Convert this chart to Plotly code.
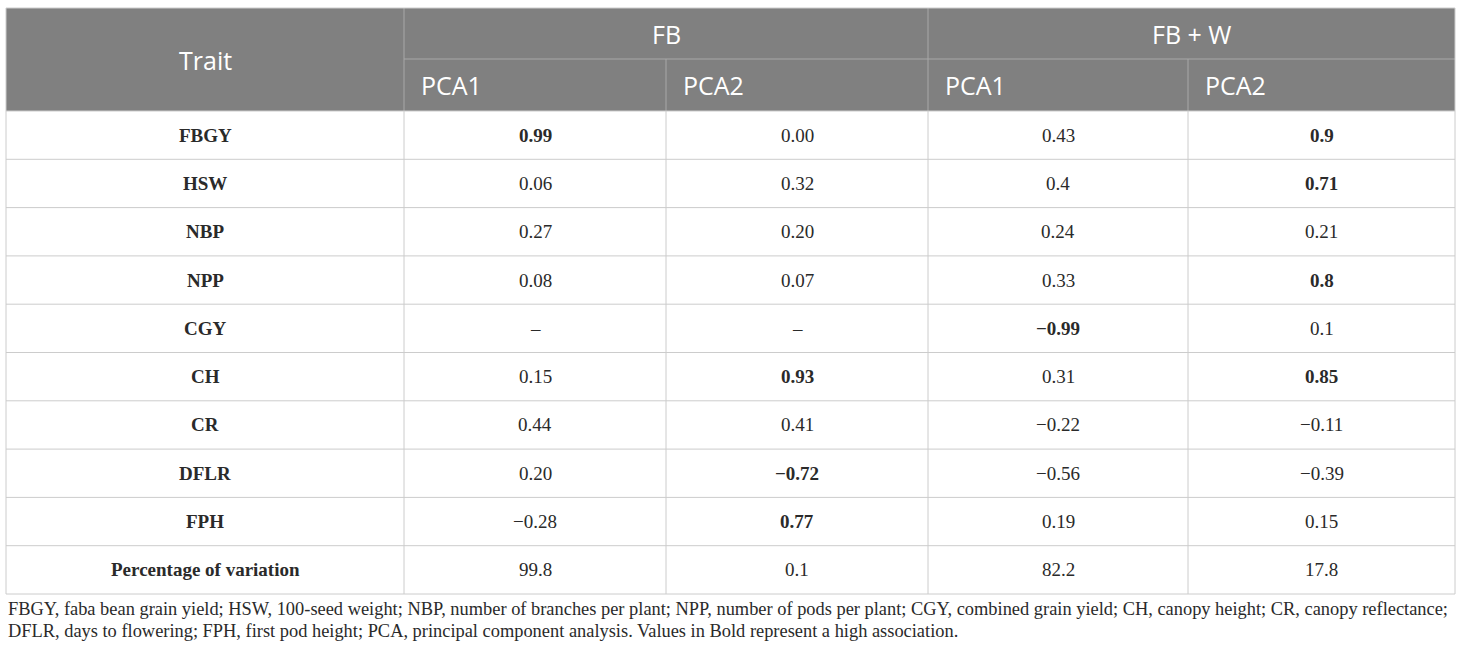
import plotly.graph_objects as go

# table data
traits = ["FBGY", "HSW", "NBP", "NPP", "CGY", "CH", "CR", "DFLR", "FPH", "Percentage of variation"]
fb_pca1 = ["0.99", "0.06", "0.27", "0.08", "–", "0.15", "0.44", "0.20", "−0.28", "99.8"]
fb_pca2 = ["0.00", "0.32", "0.20", "0.07", "–", "0.93", "0.41", "−0.72", "0.77", "0.1"]
fbw_pca1 = ["0.43", "0.4", "0.24", "0.33", "−0.99", "0.31", "−0.22", "−0.56", "0.19", "82.2"]
fbw_pca2 = ["0.9", "0.71", "0.21", "0.8", "0.1", "0.85", "−0.11", "−0.39", "0.15", "17.8"]
groups = ["FB", "FB + W"]
sub_cols = ["PCA1", "PCA2", "PCA1", "PCA2"]
footnote = [
    "FBGY, faba bean grain yield; HSW, 100-seed weight; NBP, number of branches per plant; NPP, number of pods per plant; CGY, combined grain yield; CH, canopy height; CR, canopy reflectance;",
    "DFLR, days to flowering; FPH, first pod height; PCA, principal component analysis. Values in Bold represent a high association.",
]

W, H = 1460, 656
col_edges = [6, 404, 666, 928, 1188, 1455]
top, mid, head_bot = 8, 59, 111
row_h = 48.3
hdr_bg = "#808080"
grid = "#cccccc"
serif = "Liberation Serif"
sans = "Open Sans"


def to_num(s):
    try:
        return float(s.replace("−", "-"))
    except ValueError:
        return None


fig = go.Figure()
shapes = []
ann = []

# header background
shapes.append(dict(type="rect", x0=col_edges[0], x1=col_edges[-1], y0=top, y1=head_bot,
                   fillcolor=hdr_bg, line=dict(width=0), layer="below"))
# header lines
hl = dict(color="#a8a8a8", width=1)
shapes.append(dict(type="line", x0=col_edges[1], x1=col_edges[1], y0=top, y1=head_bot, line=hl))
shapes.append(dict(type="line", x0=col_edges[3], x1=col_edges[3], y0=top, y1=head_bot, line=hl))
shapes.append(dict(type="line", x0=col_edges[2], x1=col_edges[2], y0=mid, y1=head_bot, line=hl))
shapes.append(dict(type="line", x0=col_edges[4], x1=col_edges[4], y0=mid, y1=head_bot, line=hl))
shapes.append(dict(type="line", x0=col_edges[1], x1=col_edges[-1], y0=mid, y1=mid, line=hl))

hfont = dict(family=sans, size=25, color="white")
ann.append(dict(x=(col_edges[0] + col_edges[1]) / 2, y=(top + head_bot) / 2, text="Trait",
                showarrow=False, font=hfont))
for g, name in enumerate(groups):
    ann.append(dict(x=(col_edges[1 + 2 * g] + col_edges[3 + 2 * g]) / 2, y=(top + mid) / 2,
                    text=name, showarrow=False, font=hfont))
for c, name in enumerate(sub_cols):
    ann.append(dict(x=col_edges[1 + c] + 15, y=(mid + head_bot) / 2, text=name, xanchor="left",
                    showarrow=False, font=hfont))

# body
n = len(traits)
bottom = head_bot + n * row_h
gl = dict(color=grid, width=1)
for i in range(n + 1):
    y = head_bot + i * row_h
    shapes.append(dict(type="line", x0=col_edges[0], x1=col_edges[-1], y0=y, y1=y, line=gl))
for x in col_edges:
    shapes.append(dict(type="line", x0=x, x1=x, y0=head_bot, y1=bottom, line=gl))
shapes.append(dict(type="line", x0=col_edges[0], x1=col_edges[-1], y0=top, y1=top, line=gl))
for x in (col_edges[0], col_edges[-1]):
    shapes.append(dict(type="line", x0=x, x1=x, y0=top, y1=head_bot, line=gl))

bfont = dict(family=serif, size=19, color="#2a2a2a")
columns = [fb_pca1, fb_pca2, fbw_pca1, fbw_pca2]
for i, t in enumerate(traits):
    yc = head_bot + (i + 0.5) * row_h
    ann.append(dict(x=(col_edges[0] + col_edges[1]) / 2, y=yc, text="<b>" + t + "</b>",
                    showarrow=False, font=bfont))
    for c, col in enumerate(columns):
        v = col[i]
        num = to_num(v)
        txt = v
        if i < n - 1 and num is not None and abs(num) >= 0.7:
            txt = "<b>" + v + "</b>"
        ann.append(dict(x=(col_edges[c + 1] + col_edges[c + 2]) / 2, y=yc, text=txt,
                        showarrow=False, font=bfont))

ffont = dict(family=serif, size=18.4, color="#2a2a2a")
for k, line in enumerate(footnote):
    ann.append(dict(x=col_edges[0], y=bottom + 15 + k * 21.5, text=line, xanchor="left",
                    showarrow=False, font=ffont))

fig.update_layout(
    width=W, height=H, margin=dict(l=0, r=0, t=0, b=0),
    paper_bgcolor="white", plot_bgcolor="white",
    xaxis=dict(range=[0, W], visible=False, fixedrange=True),
    yaxis=dict(range=[H, 0], visible=False, fixedrange=True),
    shapes=shapes, annotations=ann, showlegend=False,
)
fig.write_html("out.html", config={"displayModeBar": False},
               post_script="document.body.style.margin='0';document.body.style.overflow='hidden';")
